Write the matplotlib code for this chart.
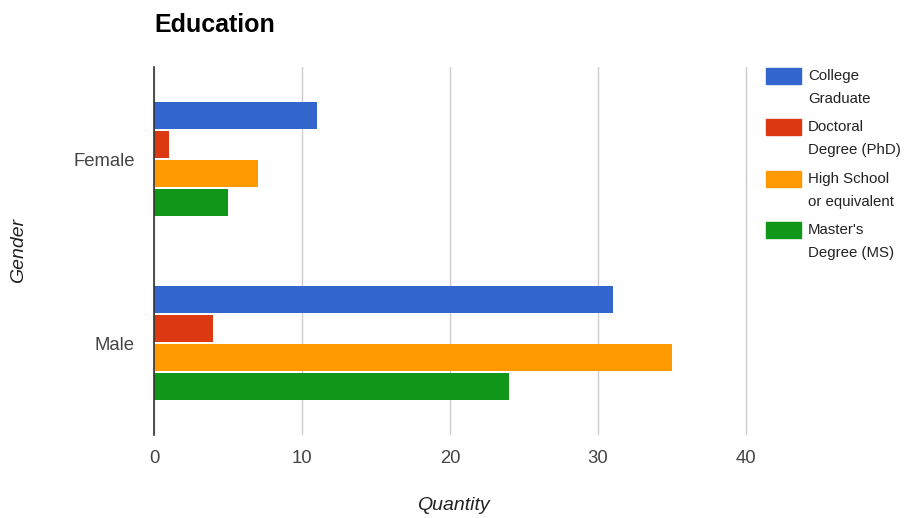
import matplotlib
matplotlib.use("Agg")
import matplotlib.pyplot as plt
from matplotlib.patches import Rectangle

plt.rcParams['font.family'] = ['Liberation Sans', 'DejaVu Sans']

genders = ["Female", "Male"]
series = ["College\nGraduate", "Doctoral\nDegree (PhD)", "High School\nor equivalent", "Master's\nDegree (MS)"]
college = [11, 31]
doctoral = [1, 4]
high_school = [7, 35]
masters = [5, 24]
x_ticks = [0, 10, 20, 30, 40]
colors = ["#3366cc", "#dc3912", "#ff9900", "#109618"]
values = [college, doctoral, high_school, masters]

W, H = 913, 518
fig = plt.figure(figsize=(W / 100, H / 100), dpi=100)
# axes spans 0..40.2 so the 40 gridline stays inside
x_max = 40.2
px_per_unit = (746 - 154) / 40
ax = fig.add_axes([154 / W, 1 - 435 / H, x_max * px_per_unit / W, (435 - 67) / H])

bar_h = 0.15
step = 0.157
for i, (vals, col) in enumerate(zip(values, colors)):
    off = (i - 1.5) * step
    ax.barh([g + off for g in range(len(genders))], vals, height=bar_h,
            color=col, zorder=3)

ax.set_xlim(0, x_max)
ax.set_ylim(1.5, -0.5)
ax.set_xticks(x_ticks)
ax.set_xticklabels([str(t) for t in x_ticks])
ax.set_yticks(range(len(genders)))
ax.set_yticklabels(genders)
ax.tick_params(axis='both', length=0, labelsize=13.3, colors="#444444")
ax.tick_params(axis='x', pad=11)
ax.tick_params(axis='y', pad=14)
ax.grid(axis='x', color="#cccccc", linewidth=1, zorder=0)
for s in ["top", "right", "bottom"]:
    ax.spines[s].set_visible(False)
ax.spines["left"].set_color("#333333")
ax.spines["left"].set_linewidth(1.2)
ax.spines["left"].set_zorder(4)

fig.text(154 / W, 1 - 25 / H, "Education", fontsize=18, fontweight="bold",
         color="#000000", ha="left", va="center")
fig.text(453 / W, 1 - 506 / H, "Quantity", fontsize=14, style="italic",
         color="#222222", ha="center", va="center")
fig.text(19 / W, 1 - 250 / H, "Gender", fontsize=14, style="italic",
         color="#222222", ha="center", va="center", rotation=90)

# legend: swatch plus two text lines per entry
for i, (name, col) in enumerate(zip(series, colors)):
    top = 68 + i * 51.3
    fig.patches.append(Rectangle((766 / W, 1 - (top + 16) / H), 35 / W, 16 / H,
                                 transform=fig.transFigure, color=col))
    for k, line in enumerate(name.split("\n")):
        fig.text(808 / W, 1 - (top + 8 + k * 23) / H, line, fontsize=10.8,
                 color="#222222", ha="left", va="center")

fig.savefig("out.png", dpi=100, facecolor="white")
